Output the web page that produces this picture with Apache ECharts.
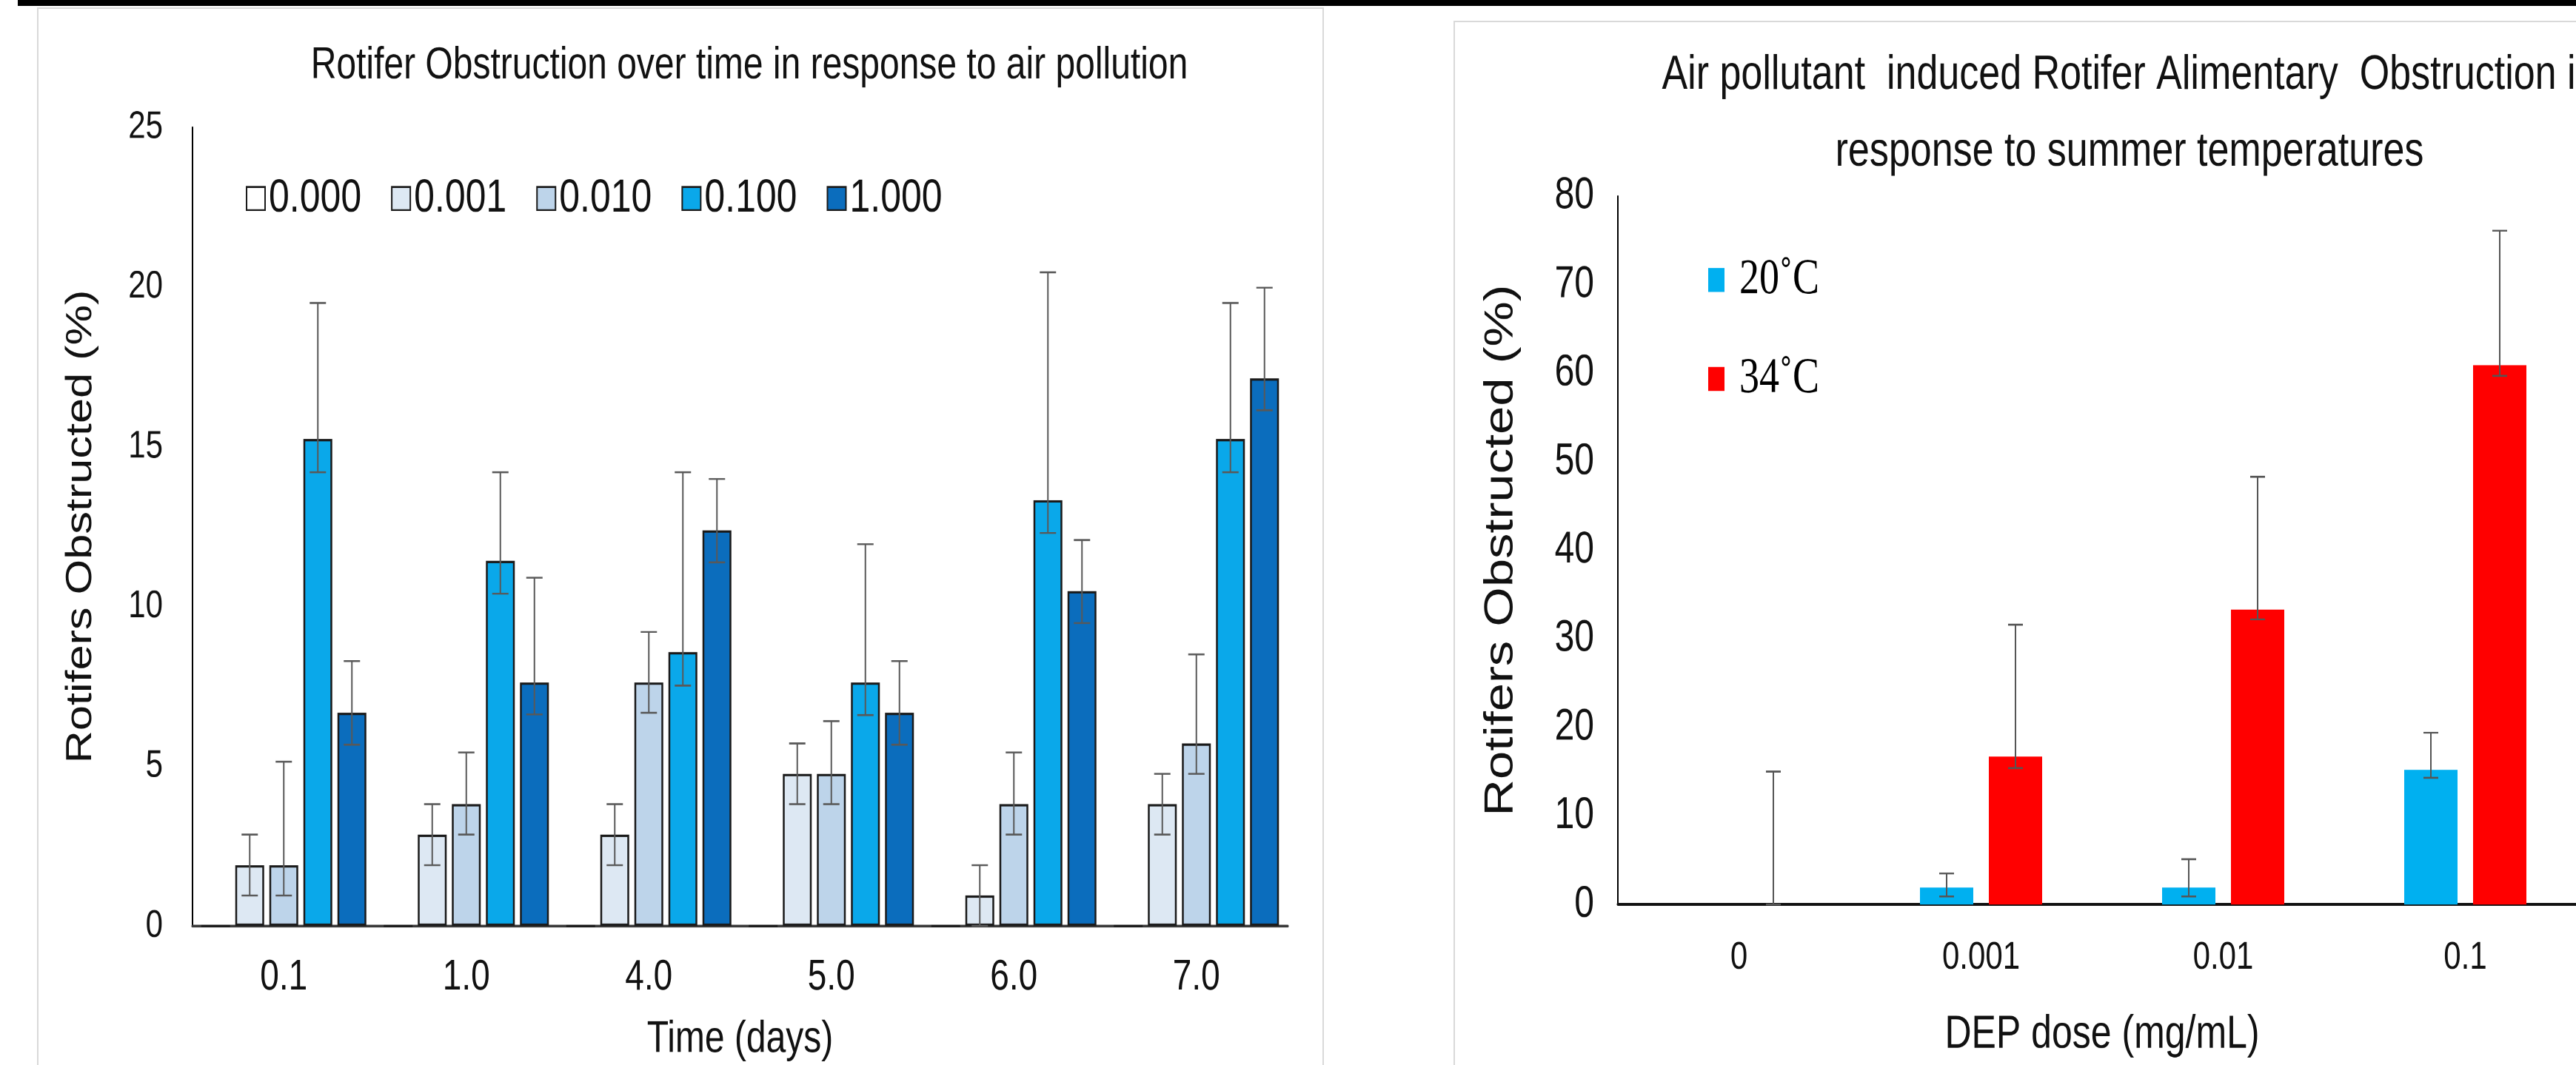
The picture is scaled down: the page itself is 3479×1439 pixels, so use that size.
<!DOCTYPE html>
<html>
<head>
<meta charset="utf-8">
<title>Rotifer obstruction</title>
<script src="https://cdn.jsdelivr.net/npm/echarts@6/dist/echarts.min.js"></script>
<style>
  html, body { margin: 0; padding: 0; background: #fff; overflow: hidden; width: 3479px; height: 1439px; position: relative; }
  .band { position: absolute; left: 24px; top: 0; width: 3455px; height: 8px; background: #000; }
  .panel { position: absolute; box-sizing: border-box; border: 2px solid #d9d9d9; overflow: hidden; background: #fff; }
  #leftPanel { left: 50px; top: 10px; width: 1738px; height: 1500px; }
  #rightPanel { left: 1963px; top: 28px; width: 1700px; height: 1500px; }
  /* the source picture is stretched vertically, so the charts are too */
  .chart { position: absolute; left: 0; top: 0; transform: scaleY(1.25); transform-origin: 0 0; }
  #left { width: 1734px; height: 1140px; }
  #right { width: 1600px; height: 1128px; }
</style>
</head>
<body>
<div class="band"></div>
<div class="panel" id="leftPanel"><div class="chart" id="left"></div></div>
<div class="panel" id="rightPanel"><div class="chart" id="right"></div></div>
<script>
// left chart: obstruction over time, one series per DEP dose
const timeCategories = ['0.1', '1.0', '4.0', '5.0', '6.0', '7.0'];
const doseNames = ['0.000', '0.001', '0.010', '0.100', '1.000'];
const leftMeans = [
  [0, 0, 0, 0, 0, 0],
  [1.9, 2.86, 2.86, 4.76, 0.95, 3.81],
  [1.9, 3.81, 7.62, 4.76, 3.81, 5.71],
  [15.24, 11.43, 8.57, 7.62, 13.33, 15.24],
  [6.67, 7.62, 12.38, 6.67, 10.48, 17.14]
];
const leftUpper = [
  [null, null, null, null, null, null],
  [2.86, 3.81, 3.81, 5.71, 1.9, 4.76],
  [5.14, 5.43, 9.2, 6.41, 5.43, 8.5],
  [19.5, 14.2, 14.2, 11.95, 20.46, 19.5],
  [8.29, 10.9, 13.99, 8.29, 12.08, 19.98]
];
const leftLower = [
  [null, null, null, null, null, null],
  [0.95, 1.9, 1.9, 3.81, 0, 2.86],
  [0.95, 2.86, 6.67, 3.81, 2.86, 4.76],
  [14.2, 10.4, 7.52, 6.6, 12.3, 14.2],
  [5.67, 6.62, 11.38, 5.67, 9.48, 16.14]
];
const leftTicks = [0, 5, 10, 15, 20, 25];
const doseColors = ['#ffffff', '#dde8f3', '#bdd4ea', '#0aa8ea', '#0b6dbd'];

// right chart: obstruction by dose at two temperatures
const doseCategories = ['0', '0.001', '0.01', '0.1'];
const tempNames = ['20˚C', '34˚C'];
const rightMeans = [
  [0, 1.9, 1.9, 15.2],
  [0, 16.7, 33.3, 60.9]
];
const rightUpper = [
  [null, 3.5, 5.1, 19.4],
  [15.0, 31.6, 48.3, 76.1]
];
const rightLower = [
  [null, 0.9, 0.9, 14.3],
  [0, 15.4, 32.2, 59.7]
];
const rightTicks = [0, 10, 20, 30, 40, 50, 60, 70, 80];
const tempColors = ['#00b0f0', '#ff0000'];

const SANS = 'Liberation Sans, Arial, sans-serif';
const SERIF = 'Liberation Serif, Times New Roman, serif';

function errorSeries(lower, upper, offset, capWidth, color) {
  const rows = [];
  lower.forEach(function (lo, i) {
    if (lo !== null && upper[i] !== null) rows.push([i, lo, upper[i]]);
  });
  return {
    type: 'custom',
    silent: true,
    z: 5,
    data: rows,
    encode: { x: 0, y: [1, 2] },
    renderItem: function (params, api) {
      const lo = api.coord([api.value(0), api.value(1)]);
      const hi = api.coord([api.value(0), api.value(2)]);
      const x = lo[0] + offset;
      const h = capWidth / 2;
      const st = function () { return { stroke: color, lineWidth: 2 }; };
      return {
        type: 'group',
        children: [
          { type: 'line', shape: { x1: x, y1: hi[1], x2: x, y2: lo[1] }, style: st() },
          { type: 'line', shape: { x1: x - h, y1: hi[1], x2: x + h, y2: hi[1] }, style: st() },
          { type: 'line', shape: { x1: x - h, y1: lo[1], x2: x + h, y2: lo[1] }, style: st() }
        ]
      };
    }
  };
}

// left
const barWL = 39, gapL = 7;
const leftSeries = [];
doseNames.forEach(function (name, i) {
  leftSeries.push({
    name: name,
    type: 'bar',
    data: leftMeans[i],
    barWidth: barWL,
    barGap: (gapL / barWL * 100) + '%',
    itemStyle: { color: doseColors[i], borderColor: '#1a1a1a', borderWidth: 2.5 }
  });
});
doseNames.forEach(function (name, i) {
  const offset = (i - (doseNames.length - 1) / 2) * (barWL + gapL);
  leftSeries.push(errorSeries(leftLower[i], leftUpper[i], offset, 22, '#595959'));
});

const leftOption = {
  animation: false,
  title: {
    text: 'Rotifer Obstruction over time in response to air pollution',
    left: 955, top: 33, textAlign: 'center',
    textStyle: { fontFamily: SANS, fontSize: 48, fontWeight: 'normal', color: '#111' }
  },
  legend: {
    data: doseNames, left: 275, top: 175, icon: 'rect',
    itemWidth: 25, itemHeight: 25, itemGap: 40, selectedMode: false,
    textStyle: { fontFamily: SANS, fontSize: 50, color: '#111' }
  },
  grid: { left: 208, right: 47, top: 128, bottom: 148.8, outerBoundsMode: 'none' },
  xAxis: {
    type: 'category',
    data: timeCategories,
    name: 'Time (days)', nameLocation: 'middle', nameGap: 99,
    nameTextStyle: { fontFamily: SANS, fontSize: 48, color: '#111' },
    axisLine: { lineStyle: { color: '#3a3a3a', width: 3 } },
    axisTick: { show: false },
    axisLabel: { margin: 33, fontFamily: SANS, fontSize: 46, color: '#111' }
  },
  yAxis: {
    type: 'value',
    min: leftTicks[0], max: leftTicks[leftTicks.length - 1], interval: leftTicks[1] - leftTicks[0],
    name: 'Rotifers Obstructed (%)', nameLocation: 'middle', nameGap: 126,
    nameTextStyle: { fontFamily: SANS, fontSize: 49, color: '#111' },
    axisLine: { show: true, lineStyle: { color: '#000', width: 2 } },
    axisTick: { show: false },
    splitLine: { show: false },
    axisLabel: { margin: 40, fontFamily: SANS, fontSize: 42, color: '#111' }
  },
  series: leftSeries
};

// right
const barWR = 72, gapR = 21;
const rightSeries = [];
tempNames.forEach(function (name, i) {
  rightSeries.push({
    name: name,
    type: 'bar',
    data: rightMeans[i],
    barWidth: barWR,
    barGap: (gapR / barWR * 100) + '%',
    itemStyle: { color: tempColors[i] }
  });
});
tempNames.forEach(function (name, i) {
  const offset = (i - (tempNames.length - 1) / 2) * (barWR + gapR);
  rightSeries.push(errorSeries(rightLower[i], rightUpper[i], offset, 20, '#555555'));
});

const rightOption = {
  animation: false,
  title: {
    text: 'Air pollutant  induced Rotifer Alimentary  Obstruction in\nresponse to summer temperatures',
    left: 906, top: 11, textAlign: 'center',
    textStyle: { fontFamily: SANS, fontSize: 52, lineHeight: 83, fontWeight: 'normal', color: '#111' }
  },
  legend: {
    data: tempNames, orient: 'vertical', left: 337, top: 243.6, icon: 'rect',
    itemWidth: 22, itemHeight: 26, itemGap: 47, selectedMode: false,
    textStyle: { fontFamily: SERIF, fontSize: 54, lineHeight: 60, color: '#000', padding: [0, 0, 0, 15] }
  },
  grid: { left: 220, right: 72, top: 188, bottom: 174.4, outerBoundsMode: 'none' },
  xAxis: {
    type: 'category',
    data: doseCategories,
    name: 'DEP dose (mg/mL)', nameLocation: 'middle', nameGap: 116,
    nameTextStyle: { fontFamily: SANS, fontSize: 50, color: '#111' },
    axisLine: { lineStyle: { color: '#111', width: 3 } },
    axisTick: { show: false },
    axisLabel: { margin: 37, fontFamily: SANS, fontSize: 42, color: '#111' }
  },
  yAxis: {
    type: 'value',
    min: rightTicks[0], max: rightTicks[rightTicks.length - 1], interval: rightTicks[1] - rightTicks[0],
    name: 'Rotifers Obstructed (%)', nameLocation: 'middle', nameGap: 130,
    nameTextStyle: { fontFamily: SANS, fontSize: 55, color: '#111' },
    axisLine: { show: true, lineStyle: { color: '#000', width: 2 } },
    axisTick: { show: false },
    splitLine: { show: false },
    axisLabel: { margin: 32, fontFamily: SANS, fontSize: 48, color: '#111' }
  },
  series: rightSeries
};

const leftChart = echarts.init(document.getElementById('left'), null, { devicePixelRatio: 2 });
leftChart.setOption(leftOption);
const rightChart = echarts.init(document.getElementById('right'), null, { devicePixelRatio: 2 });
rightChart.setOption(rightOption);
</script>
</body>
</html>
